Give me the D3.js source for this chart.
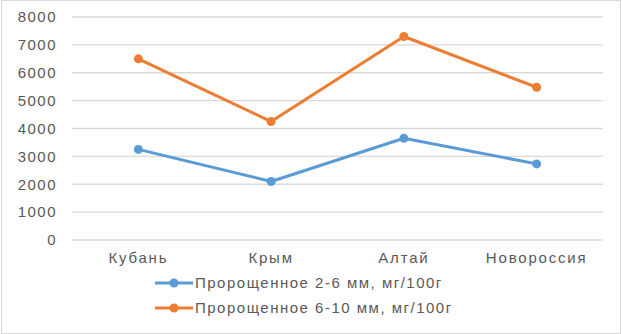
<!DOCTYPE html>
<html lang="ru">
<head>
    <meta charset="UTF-8">
    <title>Пророщенное</title>
    <script src="https://d3js.org/d3.v7.min.js"></script>
    <style>
        body { margin: 0; background: #fff; }
        text { font-family: "Liberation Sans", Arial, sans-serif; fill: #595959; letter-spacing: 1.5px; }
    </style>
</head>
<body>
    <div id="chart"></div>
    <script>
        // data
        const categories = ["Кубань", "Крым", "Алтай", "Новороссия"];
        const series1 = [3250, 2100, 3650, 2730];
        const series2 = [6500, 4250, 7300, 5480];
        const seriesNames = ["Пророщенное 2-6 мм, мг/100г", "Пророщенное 6-10 мм, мг/100г"];
        const yTicks = [0, 1000, 2000, 3000, 4000, 5000, 6000, 7000, 8000];

        const colors = ["#5b9bd5", "#ed7d31"];
        const W = 623, H = 334;
        const margin = { top: 17, right: 20, bottom: 94, left: 72 };
        const width = W - margin.left - margin.right;
        const height = H - margin.top - margin.bottom;

        const svg = d3.select("#chart").append("svg")
            .attr("width", W)
            .attr("height", H);

        // outer border
        svg.append("rect")
            .attr("x", 1.5).attr("y", 0.5)
            .attr("width", W - 4).attr("height", H - 1)
            .attr("fill", "none")
            .attr("stroke", "#d9d9d9");

        const g = svg.append("g")
            .attr("transform", "translate(" + margin.left + "," + margin.top + ")");

        const x = d3.scaleBand().domain(categories).range([0, width]);
        const y = d3.scaleLinear().domain([0, 8000]).range([height, 0]);

        // gridlines
        g.selectAll(".grid")
            .data(yTicks)
            .enter().append("line")
            .attr("x1", 0).attr("x2", width)
            .attr("y1", d => y(d)).attr("y2", d => y(d))
            .attr("stroke", "#d9d9d9")
            .attr("stroke-width", 1.3);

        // y labels
        g.selectAll(".ylab")
            .data(yTicks)
            .enter().append("text")
            .attr("x", -15)
            .attr("y", d => y(d))
            .attr("dy", "0.35em")
            .attr("text-anchor", "end")
            .style("font-size", "15px")
            .text(d => d);

        // x labels
        g.selectAll(".xlab")
            .data(categories)
            .enter().append("text")
            .attr("x", d => x(d) + x.bandwidth() / 2)
            .attr("y", height + 23)
            .attr("text-anchor", "middle")
            .style("font-size", "15px")
            .style("letter-spacing", "1.8px")
            .text(d => d);

        const line = d3.line()
            .x((d, i) => x(categories[i]) + x.bandwidth() / 2)
            .y(d => y(d));

        [series1, series2].forEach((s, k) => {
            g.append("path")
                .datum(s)
                .attr("d", line)
                .attr("fill", "none")
                .attr("stroke", colors[k])
                .attr("stroke-width", 3)
                .attr("stroke-linejoin", "round");

            g.selectAll(".pt" + k)
                .data(s)
                .enter().append("circle")
                .attr("cx", (d, i) => x(categories[i]) + x.bandwidth() / 2)
                .attr("cy", d => y(d))
                .attr("r", 4.5)
                .attr("fill", colors[k]);
        });

        // legend
        const legend = svg.append("g")
            .attr("transform", "translate(155,283)");

        seriesNames.forEach((name, k) => {
            const row = legend.append("g")
                .attr("transform", "translate(0," + (k * 25) + ")");
            row.append("line")
                .attr("x1", 0).attr("x2", 38)
                .attr("stroke", colors[k])
                .attr("stroke-width", 3);
            row.append("circle")
                .attr("cx", 19).attr("r", 4.5)
                .attr("fill", colors[k]);
            row.append("text")
                .attr("x", 40)
                .attr("dy", "0.35em")
                .style("font-size", "15px")
                .text(name);
        });
    </script>
</body>
</html>
